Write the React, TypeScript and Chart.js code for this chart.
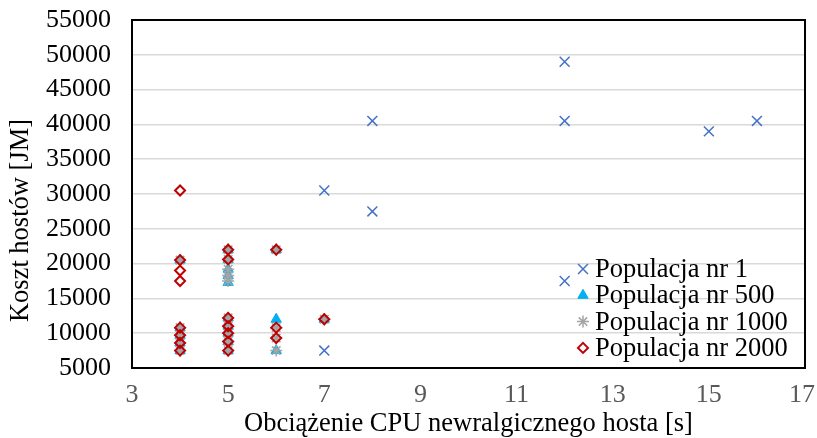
import React, { useEffect, useRef } from 'react';
import { Chart, registerables } from 'chart.js';
import { drawPoint } from 'chart.js/helpers';

Chart.register(...registerables);

const seriesNames = ['Populacja nr 1', 'Populacja nr 500', 'Populacja nr 1000', 'Populacja nr 2000'];

const pop1X = [7, 7, 8, 8, 12, 12, 12, 15, 16];
const pop1Y = [30500, 7500, 40500, 27500, 49000, 40500, 17500, 39000, 40500];

const pop500X = [4, 4, 4, 4, 4, 5, 5, 5, 5, 5, 5, 5, 5, 5, 5, 6, 6, 6, 7];
const pop500Y = [7500, 8600, 9700, 10800, 20500, 7500, 8800, 10000, 11000, 12200, 17300, 18300, 19200, 20600, 22000, 7500, 12000, 22000, 12000];

const pop1000X = [4, 4, 4, 4, 4, 5, 5, 5, 5, 5, 5, 5, 5, 5, 5, 6, 6, 6, 6, 7];
const pop1000Y = [7500, 8600, 9700, 10800, 20500, 7500, 8800, 10000, 11000, 12200, 17500, 18300, 19200, 20600, 22000, 7500, 9300, 10800, 22000, 12000];

const pop2000X = [4, 4, 4, 4, 4, 4, 4, 4, 5, 5, 5, 5, 5, 5, 5, 6, 6, 6, 7];
const pop2000Y = [7500, 8600, 9700, 10800, 17500, 19000, 20500, 30500, 7500, 8800, 10000, 11000, 12200, 20600, 22000, 9300, 10800, 22000, 12000];

const xTicks = { min: 3, max: 17, step: 2 };
const yTicks = { min: 5000, max: 55000, step: 5000 };

const xTitle = 'Obciążenie CPU newralgicznego hosta [s]';
const yTitle = 'Koszt hostów [JM]';

const FONT = "'Liberation Serif', 'Times New Roman', serif";

const toPts = (xs: number[], ys: number[]) => xs.map((x, i) => ({ x, y: ys[i] }));

const boxPlugin = {
  id: 'plotBox',
  beforeDatasetsDraw(chart: any) {
    const { ctx, chartArea } = chart;
    ctx.save();
    ctx.strokeStyle = '#000';
    ctx.lineWidth = 2;
    ctx.strokeRect(chartArea.left, chartArea.top, chartArea.right - chartArea.left, chartArea.bottom - chartArea.top);
    ctx.restore();
  },
};

// keep the last x tick label inside the canvas, as the original does
const edgeLabelPlugin = {
  id: 'edgeLabel',
  beforeDraw(chart: any) {
    const sx = chart.scales.x;
    if (!sx || !sx.getLabelItems) return;
    const items = sx.getLabelItems();
    if (!items || !items.length) return;
    const last = items[items.length - 1];
    if (last.options && last.options.translation) {
      last.options.textAlign = 'right';
      last.options.translation[0] = chart.width - 2;
    }
  },
};

const legendPlugin = {
  id: 'innerLegend',
  afterDraw(chart: any) {
    const { ctx, chartArea } = chart;
    const markerX = chartArea.right - 222;
    const textX = markerX + 12;
    const y0 = chartArea.bottom - 99;
    const step = 26.3;
    ctx.save();
    chart.data.datasets.forEach((ds: any, i: number) => {
      const y = y0 + i * step;
      ctx.strokeStyle = ds.borderColor;
      ctx.fillStyle = ds.backgroundColor;
      ctx.lineWidth = ds.borderWidth;
      drawPoint(ctx, { pointStyle: ds.pointStyle, radius: ds.pointRadius, borderWidth: ds.borderWidth, rotation: 0 } as any, markerX, y);
      ctx.fillStyle = '#000';
      ctx.font = `26.5px ${FONT}`;
      ctx.textBaseline = 'middle';
      ctx.textAlign = 'left';
      ctx.fillText(ds.label, textX, y + 1);
    });
    ctx.restore();
  },
};

export default function App() {
  const ref = useRef<HTMLCanvasElement | null>(null);
  useEffect(() => {
    document.body.style.margin = '0';
    if (!ref.current) return;
    const chart = new Chart(ref.current, {
      type: 'scatter',
      data: {
        datasets: [
          {
            label: seriesNames[0],
            data: toPts(pop1X, pop1Y),
            pointStyle: 'crossRot',
            pointRadius: 7,
            borderColor: '#4472C4',
            backgroundColor: '#4472C4',
            borderWidth: 1.5,
            order: 3,
          },
          {
            label: seriesNames[1],
            data: toPts(pop500X, pop500Y),
            pointStyle: 'triangle',
            pointRadius: 6,
            borderColor: '#00B0F0',
            backgroundColor: '#00B0F0',
            borderWidth: 1,
            order: 2,
          },
          {
            label: seriesNames[2],
            data: toPts(pop1000X, pop1000Y),
            pointStyle: 'star',
            pointRadius: 6,
            borderColor: '#A5A5A5',
            backgroundColor: '#A5A5A5',
            borderWidth: 1.5,
            order: 1,
          },
          {
            label: seriesNames[3],
            data: toPts(pop2000X, pop2000Y),
            pointStyle: 'rectRot',
            pointRadius: 5,
            borderColor: '#C00000',
            backgroundColor: 'rgba(0,0,0,0)',
            borderWidth: 2,
            order: 0,
          },
        ] as any,
      },
      options: {
        responsive: true,
        maintainAspectRatio: false,
        animation: false,
        layout: { padding: { top: 20, right: 12, left: 0, bottom: 0 } },
        plugins: {
          legend: { display: false },
          tooltip: { enabled: false },
        },
        scales: {
          x: {
            type: 'linear',
            min: xTicks.min,
            max: xTicks.max,
            ticks: { stepSize: xTicks.step, color: '#595959', font: { family: FONT, size: 26 }, padding: 4 },
            grid: { display: false },
            border: { display: false },
            title: { display: true, text: xTitle, color: '#000', font: { family: FONT, size: 26.5 }, padding: { top: 0, bottom: -2 } },
            afterFit(scale: any) {
              scale.height = 70;
              scale.paddingLeft = 0;
              scale.paddingRight = 0;
            },
          },
          y: {
            type: 'linear',
            min: yTicks.min,
            max: yTicks.max,
            ticks: {
              stepSize: yTicks.step,
              color: '#000',
              font: { family: FONT, size: 26 },
              padding: 21,
              callback: (v: any) => String(v),
            },
            grid: { color: '#D9D9D9', lineWidth: 1.5, drawTicks: false },
            border: { display: false },
            title: {
              display: true,
              text: yTitle + '\u00A0'.repeat(8),
              color: '#000',
              font: { family: FONT, size: 26.5 },
              padding: { top: 5, bottom: 0 },
            },
            afterFit(scale: any) {
              scale.width = 132;
              scale.paddingTop = 0;
              scale.paddingBottom = 0;
            },
          },
        },
      } as any,
      plugins: [boxPlugin, edgeLabelPlugin, legendPlugin],
    });
    return () => chart.destroy();
  }, []);
  return (
    <div style={{ width: 817, height: 438, position: 'relative' }}>
      <canvas ref={ref} />
    </div>
  );
}
